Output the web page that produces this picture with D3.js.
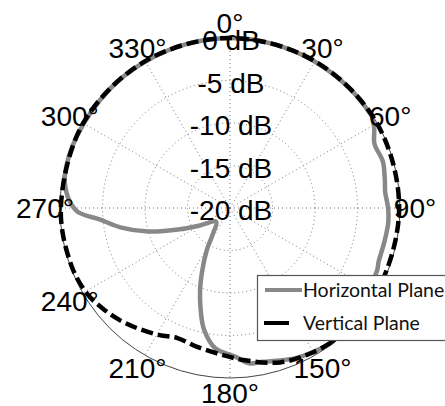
<!DOCTYPE html>
<html>
<head>
<meta charset="utf-8">
<script src="https://cdn.jsdelivr.net/npm/d3@7"></script>
<style>
  html, body { margin: 0; padding: 0; background: #fff; overflow: hidden; }
  svg { display: block; }
</style>
</head>
<body>
<svg id="chart" width="445" height="406"></svg>
<script>
// Radiation pattern: angle in degrees (clockwise from 0° at top), gain in dB
const ringValues = [-20, -15, -10, -5, 0];
const ringLabels = ["-20 dB", "-15 dB", "-10 dB", "-5 dB", "0 dB"];
const spokeAngles = [0, 30, 60, 90, 120, 150, 180, 210, 240, 270, 300, 330];
const spokeLabels = ["0°", "30°", "60°", "90°", "120°", "150°", "180°", "210°", "240°", "270°", "300°", "330°"];

const horizontalAngles = [57, 61, 66, 73, 80, 84, 90, 95, 102, 110, 113, 128, 143, 149, 156, 163, 168, 173, 178, 186, 192, 196, 200, 204, 209, 214, 225, 240, 247, 254, 260, 265, 268.5, 272, 276, 281, 295, 315, 330, 345, 360, 375, 390, 405, 417];
const horizontalDb = [-0.1, -0.6, -1.4, -1.2, -1.5, -1.65, -1.4, -1.3, -1.4, -1.4, -1.2, -0.8, -0.2, -0.4, -0.7, -1.2, -1.5, -1.6, -2.5, -3.4, -5.35, -7.5, -9.7, -12, -14.4, -16.5, -17.7, -15.9, -13.6, -9.95, -6.9, -4.6, -2.1, -1.2, -0.6, -0.2, -0.1, -0.1, -0.1, -0.05, 0, -0.05, -0.1, -0.1, -0.1];

const verticalAngles = [143, 150, 162, 175, 183, 193, 202, 209, 217, 224.5, 232, 239, 250, 270, 300, 330, 360, 390, 420, 450, 480, 503];
const verticalDb = [-0.2, -0.4, -0.9, -2.05, -2.7, -3.2, -3.5, -2.9, -2.2, -1.5, -0.9, -0.4, -0.15, -0.1, -0.05, -0.05, 0, -0.05, -0.05, -0.1, -0.1, -0.2];

const legendNames = ["Horizontal Plane", "Vertical Plane"];

const svg = d3.select("#chart");
const cx = 230, cy = 208, R = 170;
const g = svg.append("g").attr("transform", `translate(${cx},${cy})`);

const r = d3.scaleLinear().domain([-20, 0]).range([0, R]);
const rad = d => d * Math.PI / 180;

// dotted grid rings (inner) and solid outer ring
g.selectAll("circle.ring")
  .data(ringValues.filter(v => v > -20 && v < 0))
  .join("circle")
  .attr("r", d => r(d))
  .attr("fill", "none")
  .attr("stroke", "#777")
  .attr("stroke-width", 1)
  .attr("stroke-dasharray", "1,3");

// dotted spokes
g.selectAll("line.spoke")
  .data(spokeAngles)
  .join("line")
  .attr("x1", 0).attr("y1", 0)
  .attr("x2", d => R * Math.sin(rad(d)))
  .attr("y2", d => -R * Math.cos(rad(d)))
  .attr("stroke", "#777")
  .attr("stroke-width", 1)
  .attr("stroke-dasharray", "1,3");

g.append("circle")
  .attr("r", r(0))
  .attr("fill", "none")
  .attr("stroke", "#444")
  .attr("stroke-width", 1);

const line = d3.lineRadial()
  .angle(d => rad(d[0]))
  .radius(d => r(d[1]))
  .curve(d3.curveCatmullRom);

g.append("path")
  .datum(d3.zip(horizontalAngles, horizontalDb))
  .attr("d", line)
  .attr("fill", "none")
  .attr("stroke", "#888")
  .attr("stroke-width", 4.5)
  .attr("stroke-linejoin", "round");

g.append("path")
  .datum(d3.zip(verticalAngles, verticalDb))
  .attr("d", line)
  .attr("fill", "none")
  .attr("stroke", "#000")
  .attr("stroke-width", 4.5)
  .attr("stroke-dasharray", "12,5");

// ring labels along the 0° axis
g.selectAll("text.rlabel")
  .data(ringValues)
  .join("text")
  .attr("x", 1)
  .attr("y", d => -r(d) + 2)
  .attr("dy", "0.36em")
  .attr("text-anchor", "middle")
  .attr("font-family", "'Liberation Sans', Arial, sans-serif")
  .attr("font-size", 28)
  .attr("fill", "#000")
  .text((d, i) => ringLabels[i]);

// angle labels
const LR = 185;
g.selectAll("text.alabel")
  .data(spokeAngles)
  .join("text")
  .attr("x", d => LR * Math.sin(rad(d)))
  .attr("y", d => -LR * Math.cos(rad(d)))
  .attr("dy", "0.36em")
  .attr("text-anchor", "middle")
  .attr("font-family", "'Liberation Sans', Arial, sans-serif")
  .attr("font-size", 28)
  .attr("fill", "#000")
  .text((d, i) => spokeLabels[i]);

// legend
const lg = svg.append("g").attr("transform", "translate(257,275)");
lg.append("rect")
  .attr("x", 0.5).attr("y", 0.5)
  .attr("width", 220).attr("height", 65)
  .attr("fill", "#fff")
  .attr("stroke", "#555")
  .attr("stroke-width", 1.2);
const entries = [
  { name: legendNames[0], color: "#888", x1: 8, x2: 45, y: 15 },
  { name: legendNames[1], color: "#000", x1: 7, x2: 32, y: 48 }
];
entries.forEach(e => {
  lg.append("line")
    .attr("x1", e.x1).attr("x2", e.x2)
    .attr("y1", e.y).attr("y2", e.y)
    .attr("stroke", e.color)
    .attr("stroke-width", 4);
  lg.append("text")
    .attr("x", 46)
    .attr("y", e.y)
    .attr("dy", "0.35em")
    .attr("font-family", "Lato, 'Open Sans', sans-serif")
    .attr("font-size", 19.5)
    .attr("fill", "#111")
    .text(e.name);
});
</script>
</body>
</html>
